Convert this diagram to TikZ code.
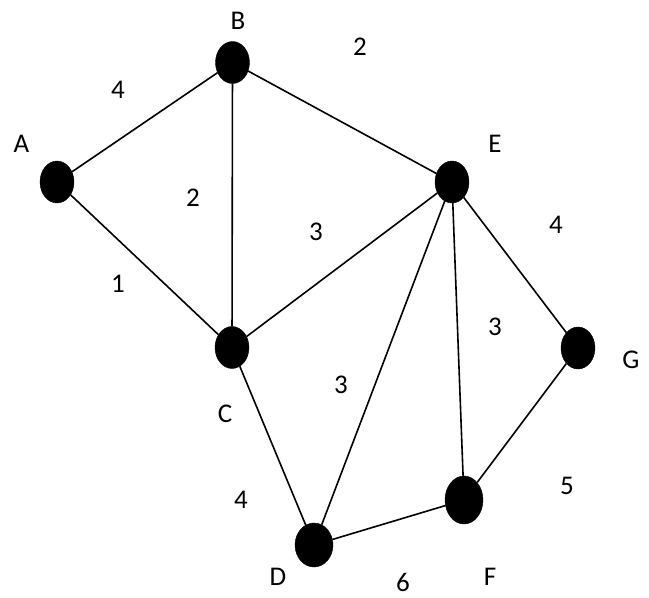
\documentclass[tikz,border=0pt]{standalone}
\usepackage{fontspec}
\setmainfont{Carlito}
\usetikzlibrary{shapes.geometric}
\begin{document}
\begin{tikzpicture}[x=1pt,y=-1pt,
  vertex/.style={ellipse, fill=black, draw=black, inner sep=0pt, minimum width=34pt, minimum height=42pt},
  lbl/.style={font=\fontsize{27}{30}\selectfont, inner sep=0pt},
  edge/.style={line width=1.6pt}]
\useasboundingbox (0,0) rectangle (649,598);
% vertices
\node[vertex] (A) at (57,182) {};
\node[vertex] (B) at (232.5,62.5) {};
\node[vertex] (C) at (232,347.5) {};
\node[vertex, minimum width=38pt, minimum height=44pt] (D) at (314,545) {};
\node[vertex] (E) at (452,182) {};
\node[vertex, minimum width=38pt, minimum height=48pt] (F) at (464,500) {};
\node[vertex] (G) at (578,348) {};
% edges
\draw[edge] (A) -- (B);
\draw[edge] (A) -- (C);
\draw[edge] (B) -- (C);
\draw[edge] (B) -- (E);
\draw[edge] (C) -- (E);
\draw[edge] (C) -- (D);
\draw[edge] (E) -- (D);
\draw[edge] (E) -- (F);
\draw[edge] (E) -- (G);
\draw[edge] (G) -- (F);
\draw[edge] (D) -- (F);
% vertex labels
\node[lbl] (lA) at (21.5,143.5) {A};
\node[lbl] (lB) at (238,20.5) {B};
\node[lbl] (lC) at (225,414) {C};
\node[lbl] (lD) at (278,577) {D};
\node[lbl] (lE) at (495,143.5) {E};
\node[lbl] (lF) at (490,577) {F};
\node[lbl] (lG) at (631,360) {G};
% weights
\node[lbl] (wAB) at (118,90) {4};
\node[lbl] (wBE) at (360,47) {2};
\node[lbl] (wBC) at (193,198) {2};
\node[lbl] (wCE) at (316,232) {3};
\node[lbl] (wAC) at (118,284) {1};
\node[lbl] (wEG) at (556,225) {4};
\node[lbl] (wEF) at (495,327) {3};
\node[lbl] (wED) at (341,385) {3};
\node[lbl] (wGF) at (567,486) {5};
\node[lbl] (wCD) at (241,500) {4};
\node[lbl] (wDF) at (403,582) {6};
\end{tikzpicture}
\end{document}
